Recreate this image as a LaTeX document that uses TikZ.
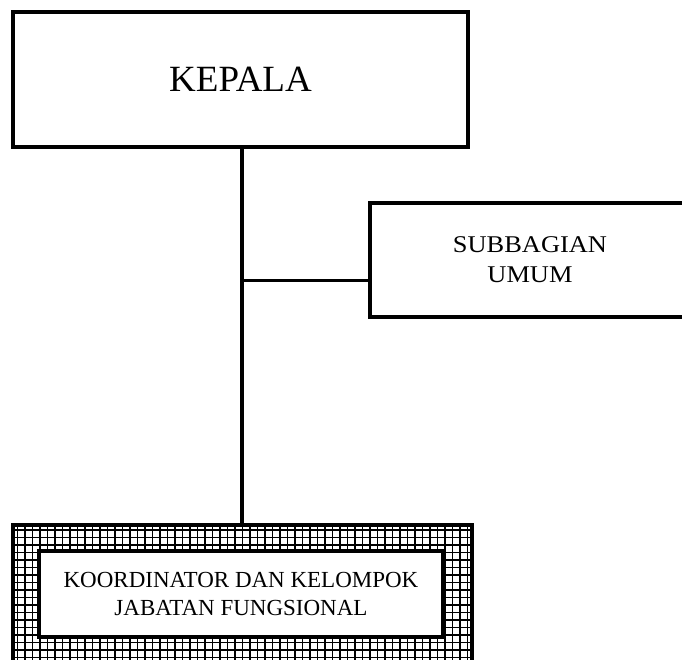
\documentclass[tikz,border=0pt]{standalone}
\usepackage{fontspec}
\setmainfont{Liberation Serif}
\begin{document}
\begin{tikzpicture}[x=1pt,y=-1pt,
  box/.style={draw=black, line width=3.6pt, fill=white, rectangle, inner sep=0pt, align=center},
  conn/.style={draw=black, line width=3.2pt}]
\useasboundingbox (0,0) rectangle (682,660);
\clip (0,0) rectangle (682,660);
\fill[white] (0,0) rectangle (682,660);
% outer patterned frame
\node[draw=black, line width=3.6pt, rectangle, inner sep=0pt, fill=white,
  minimum width=459pt, minimum height=145pt,
  path picture={
    \draw[gray!30, line width=1.2pt, step=7.5pt, shift={(3.75pt,3.75pt)}]
      ([xshift=-9pt,yshift=-9pt]path picture bounding box.south west) grid (path picture bounding box.north east);
    \draw[black, line width=1.9pt, step=7.5pt]
      ([xshift=-2pt,yshift=-2pt]path picture bounding box.south west) grid (path picture bounding box.north east);
  }] (jf) at (242.5,597.5) {};
\node[box, minimum width=404pt, minimum height=86pt, font=\fontsize{23}{28}\selectfont]
  (kor) at (241,594) {KOORDINATOR DAN KELOMPOK\\JABATAN FUNGSIONAL};
\node[box, minimum width=455pt, minimum height=135pt, font=\fontsize{37}{40}\selectfont]
  (kepala) at (240.5,79.5) {KEPALA};
\node[box, line width=3.4pt, minimum width=320pt, minimum height=114pt, font=\fontsize{24}{30}\selectfont]
  (sub) at (530,260) {\scalebox{1.1}[1]{SUBBAGIAN}\\\scalebox{1.1}[1]{UMUM}};
\coordinate (top) at ([xshift=1.5pt]kepala.south);
\coordinate (j) at ([yshift=-20pt]top |- sub.west);
\draw[conn] (top) -- (top |- jf.north);
\draw[conn, line width=3pt] (j) -- (j -| sub.west);
\end{tikzpicture}
\end{document}
